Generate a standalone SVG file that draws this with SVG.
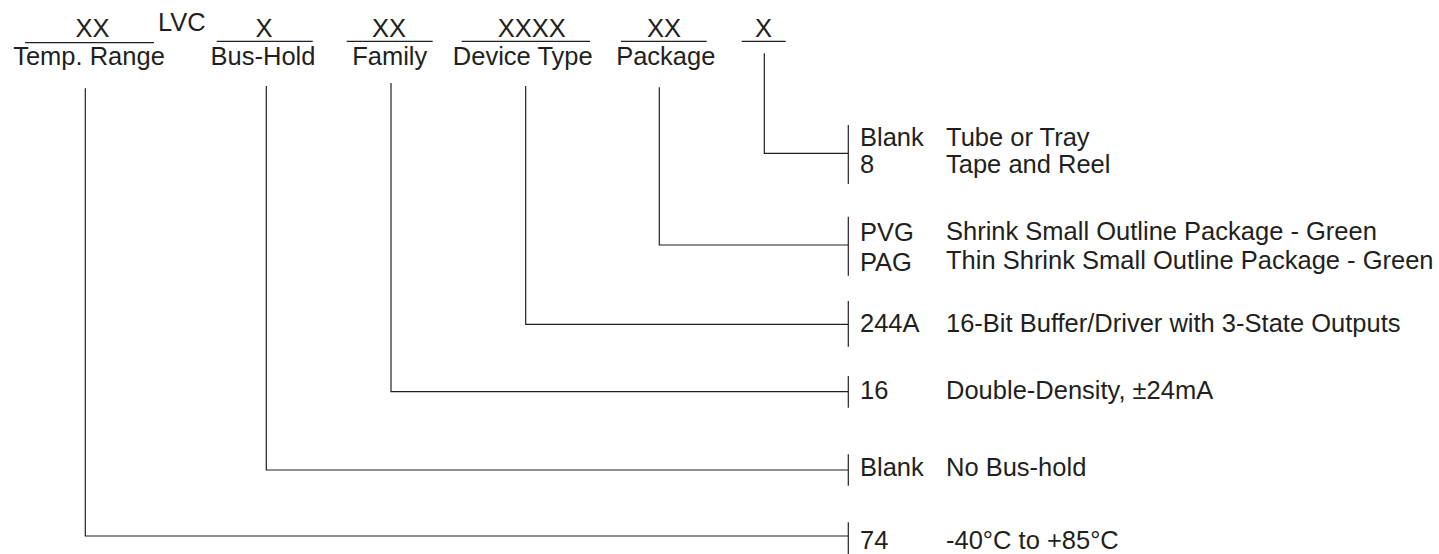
<svg xmlns="http://www.w3.org/2000/svg" width="1439" height="554" viewBox="0 0 1439 554">
<style>
text{font-family:"Liberation Sans",Arial,sans-serif;font-size:25.5px;fill:#231f20}
.m{text-anchor:middle}
line,path{stroke:#231f20;stroke-width:1.2;fill:none}
</style>
<rect width="1439" height="554" fill="#fff"/>
<g id="field-temp">
<text class="m" x="92.5" y="37">XX</text>
<line x1="25" y1="42.7" x2="154" y2="42.7"/>
<text class="m" x="89" y="64.5">Temp. Range</text>
</g>
<g id="lvc"><text x="158" y="31">LVC</text></g>
<g id="field-bushold">
<text class="m" x="264" y="36.5">X</text>
<line x1="216.7" y1="41.3" x2="312.7" y2="41.3"/>
<text class="m" x="263" y="64.5">Bus-Hold</text>
</g>
<g id="field-family">
<text class="m" x="389" y="36.5">XX</text>
<line x1="346.7" y1="41.3" x2="432.7" y2="41.3"/>
<text class="m" x="389.7" y="64.5">Family</text>
</g>
<g id="field-device">
<text class="m" x="531.7" y="36.5">XXXX</text>
<line x1="461.7" y1="41.3" x2="590" y2="41.3"/>
<text class="m" x="522.8" y="64.5">Device Type</text>
</g>
<g id="field-package">
<text class="m" x="664" y="36.5">XX</text>
<line x1="621" y1="41.3" x2="706.7" y2="41.3"/>
<text class="m" x="665.8" y="64.5">Package</text>
</g>
<g id="field-packing">
<text class="m" x="763.5" y="36.5">X</text>
<line x1="741.7" y1="41.3" x2="785.7" y2="41.3"/>
</g>
<g id="connectors">
<path d="M764.3 53.3V153.3H848.3"/>
<line x1="848.3" y1="125" x2="848.3" y2="184"/>
<path d="M659.3 87.3V245H848.3"/>
<line x1="848.3" y1="216.7" x2="848.3" y2="275.7"/>
<path d="M525.7 86V324.3H848.3"/>
<line x1="848.3" y1="301" x2="848.3" y2="346.7"/>
<path d="M391 83V391.7H848.3"/>
<line x1="848.3" y1="376" x2="848.3" y2="407.7"/>
<path d="M266.3 86V470H848.3"/>
<line x1="848.3" y1="454.3" x2="848.3" y2="485.7"/>
<path d="M85.3 88.3V536H848.3"/>
<line x1="848.3" y1="522.3" x2="848.3" y2="554"/>
</g>
<g id="opt-packing">
<text x="860" y="146">Blank</text><text x="946" y="146">Tube or Tray</text>
<text x="860" y="173.3">8</text><text x="946" y="173.3">Tape and Reel</text>
</g>
<g id="opt-package">
<text x="860" y="240.7">PVG</text><text x="946" y="239.5">Shrink Small Outline Package - Green</text>
<text x="860" y="270.7">PAG</text><text x="946" y="268.5">Thin Shrink Small Outline Package - Green</text>
</g>
<g id="opt-device">
<text x="860" y="332.3">244A</text><text x="946" y="332.3">16-Bit Buffer/Driver with 3-State Outputs</text>
</g>
<g id="opt-family">
<text x="860" y="399">16</text><text x="946" y="399">Double-Density, ±24mA</text>
</g>
<g id="opt-bushold">
<text x="860" y="476">Blank</text><text x="946" y="476">No Bus-hold</text>
</g>
<g id="opt-temp">
<text x="860" y="549.3">74</text><text x="946" y="549.3">-40°C to +85°C</text>
</g>
</svg>
